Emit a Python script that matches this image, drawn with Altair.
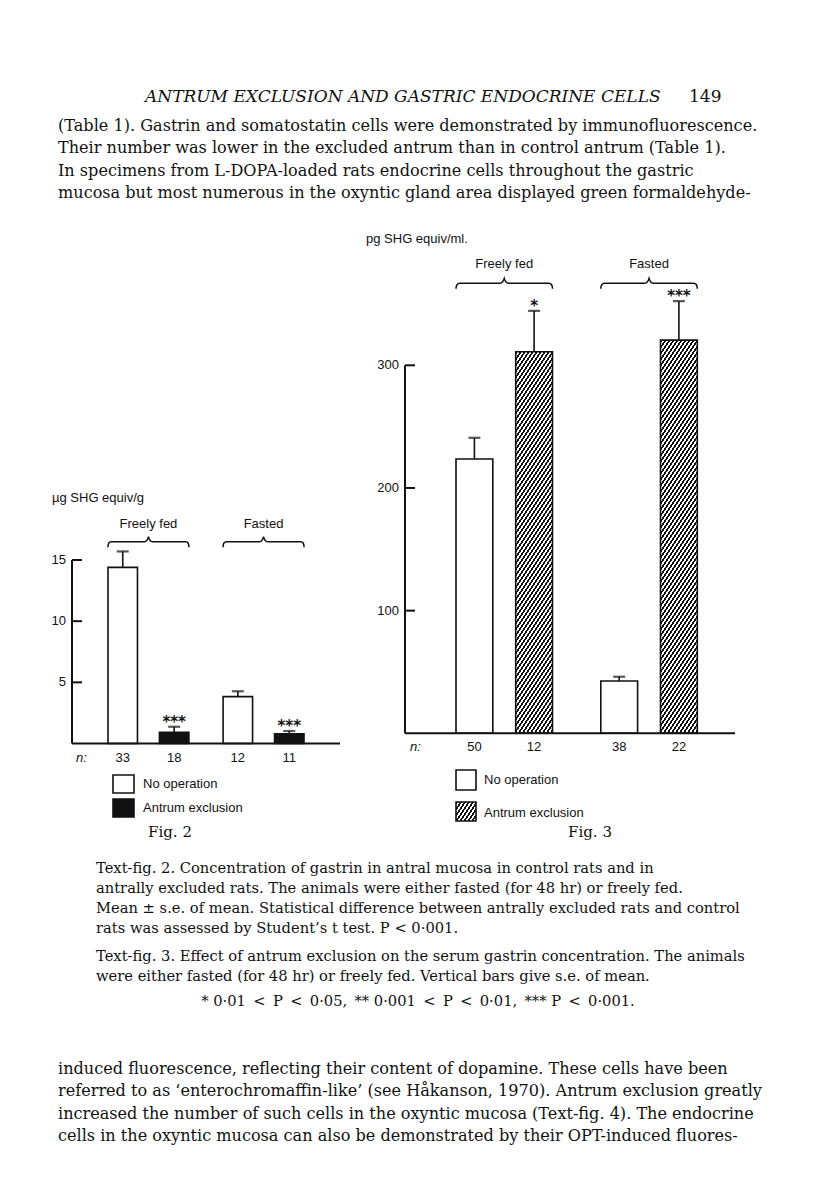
import math
import altair as alt
import pandas as pd

# ---------------- data ----------------
group_names = ["Freely fed", "Fasted"]
treatment_names = ["No operation", "Antrum exclusion"]
bar_groups = ["Freely fed", "Freely fed", "Fasted", "Fasted"]
bar_treatments = ["No operation", "Antrum exclusion", "No operation", "Antrum exclusion"]

fig2_mean = [14.4, 0.92, 3.83, 0.80]
fig2_se = [1.3, 0.45, 0.44, 0.22]
fig2_n = ["33", "18", "12", "11"]
fig2_stars = ["", "***", "", "***"]
fig2_ticks = [5, 10, 15]

fig3_mean = [223.6, 311.0, 42.6, 320.5]
fig3_se = [17.3, 33.4, 3.5, 31.8]
fig3_n = ["50", "12", "38", "22"]
fig3_stars = ["", "*", "", "***"]
fig3_ticks = [100, 200, 300]

header = "ANTRUM EXCLUSION AND GASTRIC ENDOCRINE CELLS"
page_no = "149"
body_top = [
    "(Table 1). Gastrin and somatostatin cells were demonstrated by immunofluorescence.",
    "Their number was lower in the excluded antrum than in control antrum (Table 1).",
    "In specimens from L-DOPA-loaded rats endocrine cells throughout the gastric",
    "mucosa but most numerous in the oxyntic gland area displayed green formaldehyde-",
]
caption2 = [
    "Text-fig. 2. Concentration of gastrin in antral mucosa in control rats and in",
    "antrally excluded rats. The animals were either fasted (for 48 hr) or freely fed.",
    "Mean \u00b1 s.e. of mean. Statistical difference between antrally excluded rats and control",
    "rats was assessed by Student\u2019s t test. P < 0\u00b7001.",
]
caption3 = [
    "Text-fig. 3. Effect of antrum exclusion on the serum gastrin concentration. The animals",
    "were either fasted (for 48 hr) or freely fed. Vertical bars give s.e. of mean.",
]
p_line = "* 0\u00b701 < P < 0\u00b705, ** 0\u00b7001 < P < 0\u00b701, *** P < 0\u00b7001."
body_bottom = [
    "induced fluorescence, reflecting their content of dopamine. These cells have been",
    "referred to as \u2018enterochromaffin-like\u2019 (see H\u00e5kanson, 1970). Antrum exclusion greatly",
    "increased the number of such cells in the oxyntic mucosa (Text-fig. 4). The endocrine",
    "cells in the oxyntic mucosa can also be demonstrated by their OPT-induced fluores-",
]

# ---------------- styles ----------------
SERIF = "DejaVu Serif"
SANS = "Liberation Sans"
INK = "#111111"
FS = 13  # chart text size
one = pd.DataFrame({"k": [0]})


def hatch(W, H, m=1.5, P=4.0, f=0.5):
    """Diagonal hatch as a hard-stop linear gradient in bounding-box units."""
    a, b = m * W, H
    k = (a + b) / (a * a + b * b)
    N = (m * W + H) / (m * P)
    stops = []
    i = 0
    while i / N < 1:
        o0 = i / N
        o1 = min((i + f) / N, 1.0)
        o2 = min((i + 1) / N, 1.0)
        stops += [
            alt.GradientStop(offset=o0, color=INK),
            alt.GradientStop(offset=o1, color=INK),
            alt.GradientStop(offset=o1, color="white"),
            alt.GradientStop(offset=o2, color="white"),
        ]
        i += 1
    return alt.LinearGradient(gradient="linear", stops=stops,
                              x1=0, y1=0, x2=k * a, y2=k * b)


def band_width(lo, hi, pad):
    step = (hi - lo) / (2 - pad)
    return step * (1 - pad)


def text_block(lines, x, y, size, lh, font=SERIF, align="left", style=None):
    kw = {}
    if style:
        kw["fontStyle"] = style
    return alt.Chart(one).mark_text(
        font=font, fontSize=size, lineHeight=lh, align=align,
        baseline="alphabetic", color=INK, **kw
    ).encode(x=alt.value(x), y=alt.value(y), text=alt.value(lines))


def brace_path(hw, up=5.0, down=5.5):
    u = up / hw
    d = down / hw
    return (f"M-1,{d:.4f} Q-1,0 -0.92,0 L-0.1,0 Q-0.03,0 0,{-u:.4f} "
            f"Q0.03,0 0.1,0 L0.92,0 Q1,0 1,{d:.4f}")


def figure(mean, se, n, stars, ticks, xs, xos, ys, top_val,
           axis_x, base_x2, label_x, n_x, n_dy, brace_y, glabel_y,
           hw, fill_layers):
    df = pd.DataFrame({"group": bar_groups, "treatment": bar_treatments,
                       "mean": mean, "se": se, "n": n, "stars": stars})
    base = alt.Chart(df).transform_calculate(top="datum.mean + datum.se")
    X = alt.X("group:N", scale=xs, axis=None)
    XO = alt.XOffset("treatment:N", scale=xos)
    bars = fill_layers(base, X, XO)
    err = base.mark_rule(color=INK, strokeWidth=1.6).encode(
        x=X, xOffset=XO, y=alt.Y("mean:Q", scale=ys, axis=None), y2="top:Q")
    caps = base.mark_tick(color=INK, thickness=2.2, size=12, orient="horizontal").encode(
        x=X, xOffset=XO, y=alt.Y("top:Q", scale=ys, axis=None))
    star_t = base.mark_text(font="DejaVu Sans", fontSize=15, fontWeight="bold", color=INK,
                            baseline="middle", dy=-5).encode(
        x=X, xOffset=XO, y=alt.Y("top:Q", scale=ys, axis=None), text="stars:N")
    n_t = base.mark_text(font=SANS, fontSize=FS, color=INK, baseline="middle",
                         dy=n_dy).encode(
        x=X, xOffset=XO, y=alt.Y(datum=0, scale=ys, axis=None), text="n:N")
    n_lab = alt.Chart(one).mark_text(font=SANS, fontSize=FS, fontStyle="italic",
                                     color=INK, baseline="middle", dy=n_dy,
                                     align="left").encode(
        x=alt.value(n_x), y=alt.Y(datum=0, scale=ys, axis=None), text=alt.value("n:"))
    # axes drawn from the y scale
    tdf = pd.DataFrame({"v": ticks})
    vline = alt.Chart(one).mark_rule(color=INK, strokeWidth=2).encode(
        x=alt.value(axis_x), y=alt.Y(datum=0, scale=ys, axis=None), y2=alt.datum(top_val))
    hline = alt.Chart(one).mark_rule(color=INK, strokeWidth=2).encode(
        y=alt.Y(datum=0, scale=ys, axis=None), x=alt.value(axis_x), x2=alt.value(base_x2))
    tks = alt.Chart(tdf).mark_rule(color=INK, strokeWidth=2).encode(
        y=alt.Y("v:Q", scale=ys, axis=None), x=alt.value(axis_x), x2=alt.value(axis_x + 10))
    tlab = alt.Chart(tdf).mark_text(font=SANS, fontSize=FS, color=INK, align="right",
                                    baseline="middle").encode(
        y=alt.Y("v:Q", scale=ys, axis=None), x=alt.value(label_x), text="v:Q")
    gdf = pd.DataFrame({"group": group_names})
    braces = alt.Chart(gdf).mark_point(shape=brace_path(hw), size=(2 * hw) ** 2,
                                       filled=False, stroke=INK, strokeWidth=1.5,
                                       opacity=1).encode(
        x=alt.X("group:N", scale=xs, axis=None),
        y=alt.Y(datum=brace_y, scale=ys, axis=None))
    glab = alt.Chart(gdf).mark_text(font=SANS, fontSize=FS, color=INK,
                                    baseline="middle").encode(
        x=alt.X("group:N", scale=xs, axis=None),
        y=alt.Y(datum=glabel_y, scale=ys, axis=None), text="group:N")
    return alt.layer(*bars, err, caps, star_t, n_t, n_lab, vline, hline, tks, tlab,
                     braces, glab)


# ---------- Fig. 2 ----------
xs2 = alt.Scale(domain=group_names, range=[100, 296], paddingInner=0.297, paddingOuter=0)
xo2 = alt.Scale(domain=treatment_names, paddingInner=0.427, paddingOuter=0)
ys2 = alt.Scale(domain=[0, 15], range=[735.5, 552], nice=False, zero=False)


def fill2(base, X, XO):
    return [base.mark_bar(stroke=INK, strokeWidth=1.6).encode(
        x=X, xOffset=XO,
        y=alt.Y("mean:Q", scale=ys2, axis=None), y2=alt.datum(0),
        fill=alt.Fill("treatment:N", scale=alt.Scale(domain=treatment_names,
                                                      range=["white", INK]),
                      legend=None))]


fig2 = figure(fig2_mean, fig2_se, fig2_n, fig2_stars, fig2_ticks, xs2, xo2, ys2, 15,
              axis_x=64, base_x2=332, label_x=58, n_x=68, n_dy=14.5,
              brace_y=16.5, glabel_y=17.95, hw=40.5, fill_layers=fill2)

# ---------- Fig. 3 ----------
X3_RANGE, X3_PAD, XO3_PAD = [448, 689.3], 0.3336, 0.3836
Y3_RANGE = [725.3, 357.3]
xs3 = alt.Scale(domain=group_names, range=X3_RANGE, paddingInner=X3_PAD, paddingOuter=0)
xo3 = alt.Scale(domain=treatment_names, paddingInner=XO3_PAD, paddingOuter=0)
ys3 = alt.Scale(domain=[0, 300], range=Y3_RANGE, nice=False, zero=False)

# pixel size of each hatched bar (so that the hatch period is exact)
bar_w3 = band_width(0, band_width(X3_RANGE[0], X3_RANGE[1], X3_PAD), XO3_PAD)
px_per_unit3 = (Y3_RANGE[0] - Y3_RANGE[1]) / 300.0
HATCH_BOX = hatch(20, 19)


def fill3(base, X, XO):
    white = base.transform_filter(alt.datum.treatment == "No operation").mark_bar(
        stroke=INK, strokeWidth=1.6, fill="white").encode(
        x=X, xOffset=XO, y=alt.Y("mean:Q", scale=ys3, axis=None), y2=alt.datum(0))
    layers = [white]
    for g, t, v in zip(bar_groups, bar_treatments, fig3_mean):
        if t != "Antrum exclusion":
            continue
        grad = hatch(bar_w3, v * px_per_unit3)
        layers.append(base.transform_filter(
            (alt.datum.treatment == t) & (alt.datum.group == g)).mark_bar(
            stroke=INK, strokeWidth=1.6, fill=grad).encode(
            x=X, xOffset=XO, y=alt.Y("mean:Q", scale=ys3, axis=None), y2=alt.datum(0)))
    return layers


fig3 = figure(fig3_mean, fig3_se, fig3_n, fig3_stars, fig3_ticks, xs3, xo3, ys3, 300,
              axis_x=397, base_x2=727, label_x=391, n_x=402, n_dy=13.4,
              brace_y=366.8, glabel_y=382.6, hw=48.25, fill_layers=fill3)

# ---------- legends, titles ----------
def box(x, y, w, h, fill):
    return alt.Chart(one).mark_rect(stroke=INK, strokeWidth=1.6, fill=fill).encode(
        x=alt.value(x), x2=alt.value(x + w), y=alt.value(y), y2=alt.value(y + h))


def label(txt, x, y, size=FS, font=SANS, align="left", style=None):
    kw = {"fontStyle": style} if style else {}
    return alt.Chart(one).mark_text(font=font, fontSize=size, color=INK, align=align,
                                    baseline="middle", **kw).encode(
        x=alt.value(x), y=alt.value(y), text=alt.value(txt))


extras = [
    label("\u00b5g SHG equiv/g", 44, 490),
    label("pg SHG equiv/ml.", 358, 231),
    box(105, 767, 21, 18, "white"), label("No operation", 135, 776),
    box(105, 791, 21, 18, INK), label("Antrum exclusion", 135, 800),
    box(448, 762, 20, 20, "white"), label("No operation", 476, 772),
    box(448, 794, 20, 19, HATCH_BOX), label("Antrum exclusion", 476, 804.5),
    label("Fig. 2", 162, 824, size=15, font=SERIF, align="center"),
    label("Fig. 3", 582, 824, size=15, font=SERIF, align="center"),
]

# the significance line is typeset with wider (mathematical) spacing around "<"
p_line_set = p_line.replace(" < ", "\u2002<\u2002").replace(", ", ",\u2002")

texts = [
    text_block(header, 137, 94, 17, 20, style="italic"),
    text_block(page_no, 681, 94, 17, 20),
    text_block(body_top, 50, 123, 16.1, 22.4),
    text_block(caption2, 88, 864.5, 14.7, 20.3),
    text_block(caption3, 88, 952.5, 14.7, 20.3),
    text_block(p_line_set, 410, 997.5, 14.7, 20, align="center"),
    text_block(body_bottom, 50, 1066, 16.1, 22.4),
]

chart = alt.layer(*texts, *extras, fig2, fig3).resolve_scale(
    x="independent", y="independent", xOffset="independent", fill="independent"
).properties(
    width=800, height=1175, padding=0,
    autosize=alt.AutoSizeParams(type="none"),
    background="white",
).configure_view(stroke=None)

chart.save("out.html", embed_options={"renderer": "svg", "actions": False})
